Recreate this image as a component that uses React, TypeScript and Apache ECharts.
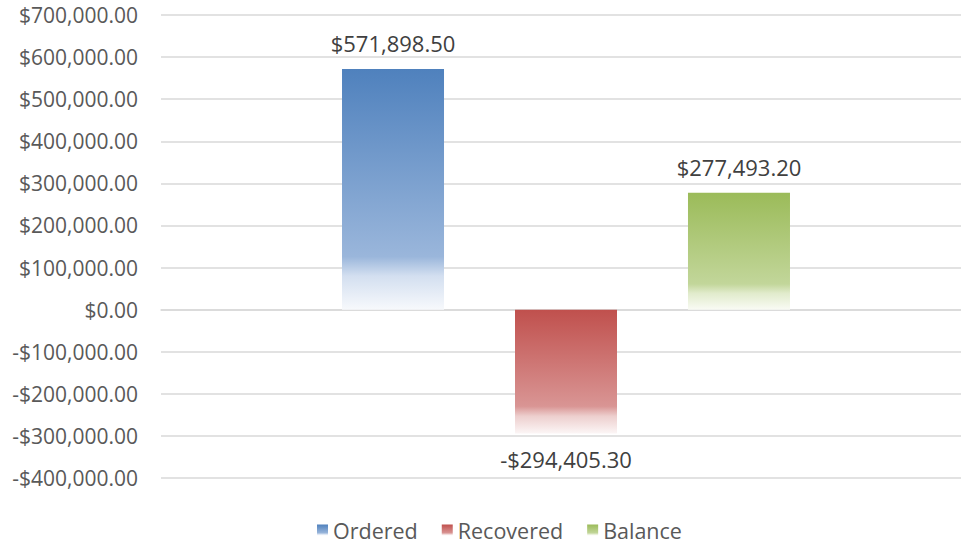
import React, { useEffect, useRef } from "react";
import * as echarts from "echarts";

const categories = [""];
const seriesNames = ["Ordered", "Recovered", "Balance"];
const orderedValues = [571898.5];
const recoveredValues = [-294405.3];
const balanceValues = [277493.2];
const yMin = -400000;
const yMax = 700000;
const yInterval = 100000;

const fmt = (v: number) => {
  const s = Math.abs(v).toLocaleString("en-US", { minimumFractionDigits: 2, maximumFractionDigits: 2 });
  return (v < 0 ? "-$" : "$") + s;
};

const grad = (c0: string, c1: string, c2: string, c3: string) =>
  new echarts.graphic.LinearGradient(0, 0, 0, 1, [
    { offset: 0, color: c0 },
    { offset: 0.78, color: c1 },
    { offset: 0.86, color: c2 },
    { offset: 1, color: c3 },
  ]);

export default function App() {
  const ref = useRef<HTMLDivElement>(null);
  useEffect(() => {
    if (!ref.current) return;
    const chart = echarts.init(ref.current, undefined, { renderer: "svg" });
    const font = "'Open Sans', sans-serif";
    const colors = [
      grad("#4f81bd", "#9ab6db", "#d3dff0", "#f7f9fc"),
      grad("#c0504d", "#d99594", "#edcfce", "#fcf6f6"),
      grad("#9bbb59", "#c2d69a", "#e1ebcc", "#f9fbf4"),
    ];
    const data = [orderedValues, recoveredValues, balanceValues];
    chart.setOption({
      animation: false,
      textStyle: { fontFamily: font },
      grid: { left: 161, right: 0, top: 15, bottom: 66, containLabel: false },
      legend: {
        left: 312,
        top: 514,
        itemWidth: 11,
        itemHeight: 11,
        itemGap: 24,
        icon: "rect",
        textStyle: { color: "#595959", fontSize: 21.5, fontFamily: font },
        data: seriesNames,
      },
      xAxis: {
        type: "category",
        data: categories,
        axisLine: { show: true, lineStyle: { color: "#d9d9d9", width: 1.5 } },
        axisTick: { show: false },
        axisLabel: { show: false },
      },
      yAxis: {
        type: "value",
        min: yMin,
        max: yMax,
        interval: yInterval,
        axisLine: { show: false },
        axisTick: { show: false },
        splitLine: { lineStyle: { color: "#d9d9d9", width: 1.5 } },
        axisLabel: {
          color: "#595959",
          fontSize: 21,
          fontFamily: font,
          margin: 23,
          formatter: (v: number) => fmt(v),
        },
      },
      series: seriesNames.map((name, i) => ({
        name,
        type: "bar",
        data: data[i],
        barWidth: 102,
        barGap: "69.6%",
        itemStyle: { color: colors[i] },
        label: {
          show: true,
          position: data[i][0] < 0 ? "bottom" : "top",
          distance: data[i][0] < 0 ? 14 : 15,
          color: "#404040",
          fontSize: 22,
          fontFamily: font,
          formatter: (p: any) => fmt(p.value),
        },
      })),
    });
    return () => chart.dispose();
  }, []);
  return (
    <div
      ref={ref}
      style={{ position: "fixed", left: 0, top: 0, width: 971, height: 544, background: "#fff" }}
    />
  );
}
